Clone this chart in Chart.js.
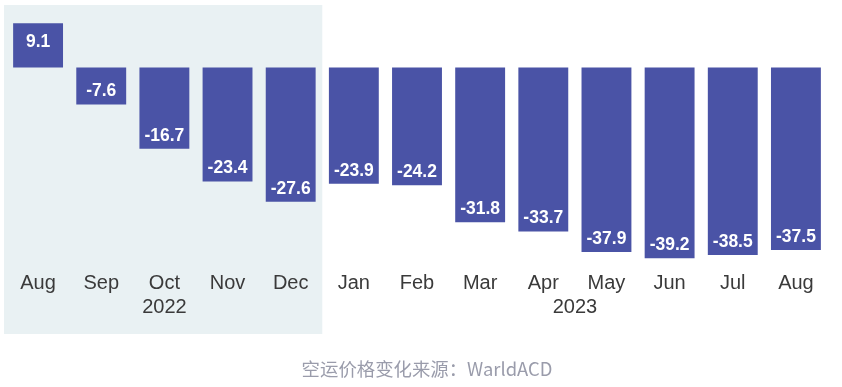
<!DOCTYPE html>
<html>
<head>
<meta charset="utf-8">
<script src="https://cdn.jsdelivr.net/npm/chart.js@4/dist/chart.umd.min.js"></script>
<style>
html,body{margin:0;padding:0;background:#fff;overflow:hidden;}
#wrap{width:842px;height:387px;position:relative;overflow:hidden;}
#c{position:absolute;left:0;top:0;}
#cap{position:absolute;left:10px;width:834px;top:357px;height:22px;line-height:22px;text-align:center;
  font-family:"Noto Sans CJK SC",sans-serif;font-size:18.4px;color:#9a9cab;white-space:nowrap;}
</style>
</head>
<body>
<div id="wrap"><canvas id="c" width="842" height="387"></canvas><div id="cap"></div></div>
<script>
const months = ['Aug','Sep','Oct','Nov','Dec','Jan','Feb','Mar','Apr','May','Jun','Jul','Aug'];
const values = [9.1,-7.6,-16.7,-23.4,-27.6,-23.9,-24.2,-31.8,-33.7,-37.9,-39.2,-38.5,-37.5];
const years = ['2022','2023'];
const yearMonthCounts = [5,8];
const caption = '空运价格变化来源：WarldACD';

document.getElementById('cap').textContent = caption;

// year label centers derived from month counts
const yearCenters = [];
let start = 0;
yearMonthCounts.forEach(n => { yearCenters.push(start + (n - 1) / 2); start += n; });

const shadePlugin = {
  id: 'shade',
  beforeDraw(chart) {
    const {ctx, chartArea} = chart;
    const x = chart.scales.x;
    const x2 = chart.scales.x2;
    const half = (x.getPixelForValue(1) - x.getPixelForValue(0)) / 2;
    const right = x.getPixelForValue(yearMonthCounts[0] - 1) + half;
    const left = chartArea.left - 2.5;
    ctx.save();
    ctx.fillStyle = '#e9f1f3';
    ctx.fillRect(left, 5, right - left, x2.bottom + 15 - 5);
    ctx.restore();
  }
};

const labelPlugin = {
  id: 'barLabels',
  afterDatasetsDraw(chart) {
    const {ctx} = chart;
    const meta = chart.getDatasetMeta(0);
    ctx.save();
    ctx.fillStyle = '#ffffff';
    ctx.font = 'bold 17.5px "Liberation Sans", Arial, sans-serif';
    ctx.textAlign = 'center';
    ctx.textBaseline = 'middle';
    meta.data.forEach((el, i) => {
      const v = values[i];
      const y = v < 0 ? el.y - 13 : el.y + 19;
      ctx.fillText(String(v), el.x, y);
    });
    ctx.restore();
  }
};

new Chart(document.getElementById('c'), {
  type: 'bar',
  data: {
    labels: months,
    datasets: [{
      data: values,
      backgroundColor: '#4a53a6',
      borderWidth: 0,
      barPercentage: 0.79,
      categoryPercentage: 1.0,
      xAxisID: 'x'
    }]
  },
  options: {
    responsive: false,
    animation: false,
    devicePixelRatio: 1,
    layout: { padding: { left: 6.5, right: 14.5, top: 4.2, bottom: 68 } },
    plugins: {
      legend: { display: false },
      tooltip: { enabled: false },
      title: { display: false }
    },
    scales: {
      y: { display: false, min: -41.8, max: 13 },
      x: {
        type: 'category',
        offset: true,
        grid: { display: false, drawTicks: false },
        border: { display: false },
        ticks: {
          color: '#3a3a3a',
          font: { family: '"Liberation Sans", Arial, sans-serif', size: 20, lineHeight: 1.2 },
          padding: 0,
          maxRotation: 0,
          autoSkip: false
        }
      },
      x2: {
        type: 'linear',
        position: 'bottom',
        offset: false,
        min: -0.5,
        max: months.length - 0.5,
        grid: { display: false, drawTicks: false },
        border: { display: false },
        afterBuildTicks(axis) {
          axis.ticks = yearCenters.map(v => ({ value: v }));
        },
        ticks: {
          color: '#3a3a3a',
          font: { family: '"Liberation Sans", Arial, sans-serif', size: 20, lineHeight: 1.2 },
          padding: 0,
          maxRotation: 0,
          autoSkip: false,
          callback(value) {
            const idx = yearCenters.indexOf(value);
            return idx >= 0 ? years[idx] : '';
          }
        }
      }
    }
  },
  plugins: [shadePlugin, labelPlugin]
});
</script>
</body>
</html>
